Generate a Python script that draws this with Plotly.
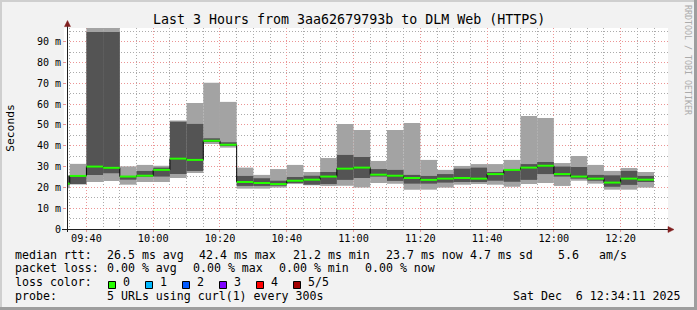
import plotly.graph_objects as go
import pandas as pd

# ---------------- data (milliseconds) ----------------
DAY = "2025-12-06 "
slot_start = ["09:30", "09:35", "09:40", "09:45", "09:50", "09:55",
              "10:00", "10:05", "10:10", "10:15", "10:20", "10:25",
              "10:30", "10:35", "10:40", "10:45", "10:50", "10:55",
              "11:00", "11:05", "11:10", "11:15", "11:20", "11:25",
              "11:30", "11:35", "11:40", "11:45", "11:50", "11:55",
              "12:00", "12:05", "12:10", "12:15", "12:20", "12:25"]
ping_min = [19.6, 21.4, 22.6, 23.1, 21.3, 22.6, 22.6, 24.5, 26.9, 40.9, 39.1, 19.4,
            19.4, 19.9, 21.6, 21.0, 20.7, 20.8, 19.9, 22.1, 21.8, 18.9, 18.9, 19.9,
            21.3, 21.6, 21.3, 20.3, 21.6, 22.1, 20.7, 23.2, 21.8, 18.9, 18.9, 19.9]
ping_q1 = [21.4, 21.6, 26.0, 26.8, 23.7, 25.2, 25.2, 26.4, 27.9, 41.8, 39.9, 20.7,
           20.7, 20.8, 22.1, 21.3, 21.6, 23.6, 24.5, 25.2, 23.1, 21.8, 21.8, 22.3,
           22.6, 22.6, 23.2, 22.7, 23.6, 26.4, 25.2, 24.2, 23.2, 20.3, 21.2, 22.6]
ping_median = [21.8, 25.5, 30.0, 29.4, 25.2, 25.6, 28.4, 33.8, 33.2, 42.4, 40.5, 22.6,
               22.1, 21.6, 23.2, 23.7, 25.2, 29.0, 29.5, 26.1, 25.6, 24.5, 23.6, 24.2,
               24.5, 24.2, 26.4, 28.4, 29.5, 30.4, 26.4, 25.2, 24.2, 22.3, 24.2, 23.7]
ping_q3 = [25.6, 25.7, 94.7, 94.7, 25.5, 27.9, 29.5, 51.6, 50.5, 43.6, 41.7, 25.5,
           24.4, 23.2, 25.0, 25.6, 27.4, 35.6, 34.6, 28.8, 28.4, 26.0, 25.5, 26.4,
           29.0, 29.5, 27.4, 28.5, 31.2, 32.2, 30.0, 29.8, 26.0, 25.8, 27.9, 25.5]
ping_max = [25.8, 31.3, 97.5, 97.5, 30.1, 30.8, 30.4, 52.1, 60.6, 70.3, 61.1, 29.5,
            26.0, 28.8, 30.8, 27.4, 34.1, 50.5, 47.6, 32.7, 47.6, 51.0, 33.2, 28.4,
            30.3, 31.2, 31.2, 33.2, 54.3, 53.4, 31.7, 35.1, 30.8, 27.9, 29.3, 27.4]

y_tick_vals = [0, 10, 20, 30, 40, 50, 60, 70, 80, 90]
y_tick_text = ["0", "10 m", "20 m", "30 m", "40 m", "50 m", "60 m", "70 m", "80 m", "90 m"]

title_text = "Last 3 Hours from 3aa62679793b to DLM Web (HTTPS)"
rtt_row = ["26.5 ms avg", "42.4 ms max", "21.2 ms min", "23.7 ms now", "4.7 ms sd", "5.6", "am/s"]
loss_row = ["0.00 % avg", "0.00 % max", "0.00 % min", "0.00 % now"]
loss_labels = ["0", "1", "2", "3", "4", "5/5"]
loss_colors = ["#26ff00", "#00b8ff", "#0059ff", "#7e00ff", "#ff0000", "#a10000"]
probe_text = "5 URLs using curl(1) every 300s"
stamp_text = "Sat Dec  6 12:34:11 2025"

# ---------------- layout constants ----------------
W, H = 697, 310
L, R, T, B = 67, 29, 28, 81
PW, PH = W - L - R, H - T - B
MONO = "DejaVu Sans Mono"
LIGHT = "#a3a3a3"
DARK = "#545454"
GREEN = "#26ff00"


def xp(px):
    return (px - L) / PW


def yp(py):
    return (H - B - py) / PH


x0 = pd.to_datetime([DAY + s for s in slot_start])
step = pd.Timedelta(minutes=5)
x1 = x0 + step
wms = step.total_seconds() * 1000

fig = go.Figure()
fig.add_trace(go.Bar(x=x0, base=ping_min,
                     y=[b - a for a, b in zip(ping_min, ping_max)],
                     width=wms, offset=0, marker=dict(color=LIGHT, line=dict(width=0)),
                     hoverinfo="skip"))
fig.add_trace(go.Bar(x=x0, base=ping_q1,
                     y=[b - a for a, b in zip(ping_q1, ping_q3)],
                     width=wms, offset=0, marker=dict(color=DARK, line=dict(width=0)),
                     hoverinfo="skip"))
fig.add_trace(go.Scatter(x=list(x0) + [x1[-1]], y=ping_median + [ping_median[-1]],
                         mode="lines", line=dict(shape="hv", color="#000000", width=1),
                         hoverinfo="skip"))
gx, gy = [], []
for s, e, m in zip(x0, x1, ping_median):
    gx += [s, e, None]
    gy += [m, m, None]
fig.add_trace(go.Scatter(x=gx, y=gy, mode="lines", line=dict(color=GREEN, width=2),
                         hoverinfo="skip"))

GRID = "#ababab"
MGRID = "#eb9595"
DASH = "1px,2px"

fig.update_layout(
    width=W, height=H, margin=dict(l=L, r=R, t=T, b=B, autoexpand=False),
    paper_bgcolor="#f2f2f2", plot_bgcolor="#ffffff",
    showlegend=False, barmode="overlay",
    xaxis=dict(type="date", range=[DAY + "09:34:11", DAY + "12:34:11"],
               tickformat="%H:%M", dtick=20 * 60 * 1000, tick0=DAY + "09:40:00",
               showgrid=True, gridcolor=MGRID, griddash=DASH, gridwidth=1,
               minor=dict(dtick=5 * 60 * 1000, tick0=DAY + "09:40:00", showgrid=True,
                          gridcolor=GRID, griddash=DASH, gridwidth=1),
               ticks="outside", ticklen=2, tickcolor=MGRID, ticklabelstandoff=-2,
               showline=False, zeroline=False,
               tickfont=dict(family=MONO, size=10.2, color="#000000")),
    yaxis=dict(range=[0, 96.6], tickvals=y_tick_vals, ticktext=y_tick_text,
               showgrid=True, gridcolor=MGRID, griddash=DASH, gridwidth=1,
               minor=dict(dtick=5, showgrid=True, gridcolor=GRID, griddash=DASH, gridwidth=1),
               ticks="outside", ticklen=3, tickcolor=MGRID,
               showline=False, zeroline=False,
               tickfont=dict(family=MONO, size=10, color="#000000")),
)

shapes = []
# extra canvas strip left of the axis
shapes.append(dict(type="rect", xref="paper", yref="paper", x0=xp(64), x1=xp(67),
                   y0=yp(229), y1=yp(28), fillcolor="#ffffff", line=dict(width=0),
                   layer="below"))
# axes
AX = "#1f1f1f"
ARROW = "#801f1f"
shapes.append(dict(type="line", xref="paper", yref="paper", x0=xp(67.5), x1=xp(67.5),
                   y0=yp(232), y1=yp(24), line=dict(color=AX, width=1)))
shapes.append(dict(type="line", xref="paper", yref="paper", x0=xp(62), x1=xp(669),
                   y0=yp(229.5), y1=yp(229.5), line=dict(color=AX, width=1)))
shapes.append(dict(type="path", xref="paper", yref="paper",
                   path="M {} {} L {} {} L {} {} Z".format(xp(64.5), yp(26.5), xp(70.5), yp(26.5), xp(67.5), yp(20.5)),
                   fillcolor=ARROW, line=dict(color=ARROW, width=0.5)))
shapes.append(dict(type="path", xref="paper", yref="paper",
                   path="M {} {} L {} {} L {} {} Z".format(xp(668), yp(226.5), xp(668), yp(232.5), xp(674), yp(229.5)),
                   fillcolor=ARROW, line=dict(color=ARROW, width=0.5)))
# 3d frame
shapes.append(dict(type="rect", xref="paper", yref="paper", x0=xp(0), x1=xp(697),
                   y0=yp(2), y1=yp(0), fillcolor="#cfcfcf", line=dict(width=0)))
shapes.append(dict(type="rect", xref="paper", yref="paper", x0=xp(0), x1=xp(2),
                   y0=yp(310), y1=yp(0), fillcolor="#cfcfcf", line=dict(width=0)))
shapes.append(dict(type="rect", xref="paper", yref="paper", x0=xp(0), x1=xp(697),
                   y0=yp(310), y1=yp(307), fillcolor="#9e9e9e", line=dict(width=0)))
shapes.append(dict(type="rect", xref="paper", yref="paper", x0=xp(694), x1=xp(697),
                   y0=yp(310), y1=yp(0), fillcolor="#9e9e9e", line=dict(width=0)))
# loss colour swatches
sw_x = [108.5, 145.5, 182.5, 219.5, 256.5, 293.5]
for sx, c in zip(sw_x, loss_colors):
    shapes.append(dict(type="rect", xref="paper", yref="paper", x0=xp(sx), x1=xp(sx + 7),
                       y0=yp(288.5), y1=yp(281.5), fillcolor=c, line=dict(color="#000000", width=1)))
fig.update_layout(shapes=shapes)


def txt(s, xpx, ypx, size=11.6, xanchor="left", angle=0, color="#000000"):
    fig.add_annotation(text=s, x=xp(xpx), y=yp(ypx), xref="paper", yref="paper",
                       xanchor=xanchor, yanchor="middle", showarrow=False,
                       font=dict(family=MONO, size=size, color=color),
                       textangle=angle, borderpad=0, borderwidth=0)


txt(title_text, 348.5, 19.3, size=13.3, xanchor="center")
txt("Seconds", 10.5, 128.3, size=11.3, xanchor="center", angle=-90)
txt("RRDTOOL / TOBI OETIKER", 688, 60, size=8.3, xanchor="center", angle=90, color="#ababab")

r1 = 254.7
r2 = 268.3
r3 = 282.3
r4 = 296.3
txt("median rtt:", 15.4, r1)
for s, x in zip(rtt_row, [106.7, 199.4, 292.7, 386.1, 470.4, 557.7, 599.4]):
    txt(s, x, r1)
txt("packet loss:", 15.4, r2)
for s, x in zip(loss_row, [106.7, 192.7, 278.7, 365.4]):
    txt(s, x, r2)
txt("loss color:", 15.4, r3)
for s, x in zip(loss_labels, [122.7, 160.4, 197.1, 234.4, 271.1, 307.7]):
    txt(s, x, r3)
txt("probe:", 15.4, r4)
txt(probe_text, 106.7, r4)
txt(stamp_text, 680.5, r4, xanchor="right")

fig.write_html("out.html")
